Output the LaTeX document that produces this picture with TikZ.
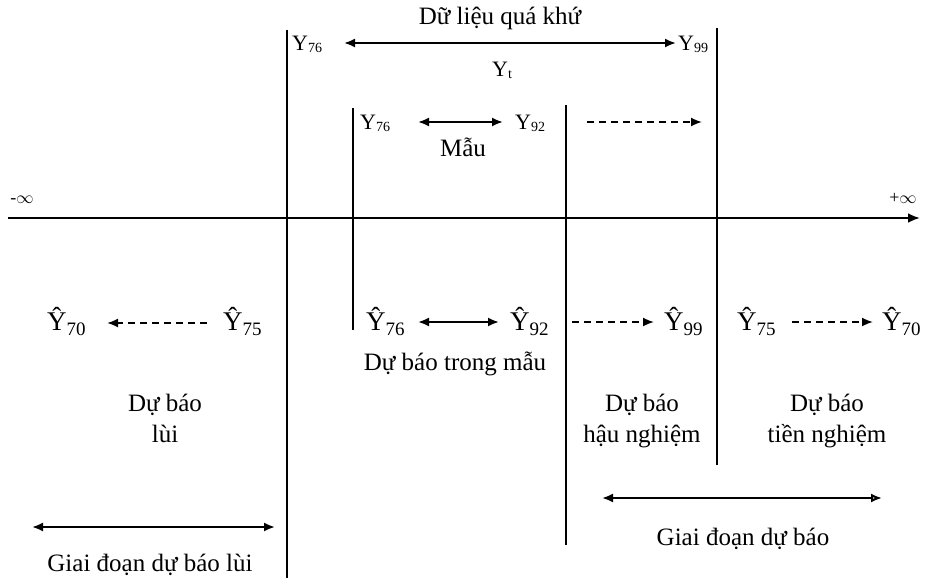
\documentclass[tikz,border=0pt]{standalone}
\usepackage{fontspec}
\setmainfont{Liberation Serif}
\usetikzlibrary{arrows.meta}
\begin{document}
\begin{tikzpicture}[x=1pt,y=-1pt,
 txt/.style={font=\fontsize{25}{28}\selectfont, inner sep=0pt, anchor=base},
 ysm/.style={font=\fontsize{22}{24}\selectfont, inner sep=0pt, anchor=base west},
 yhat/.style={font=\fontsize{27}{29}\selectfont, inner sep=0pt, anchor=base west},
 inf/.style={font=\fontsize{18}{20}\selectfont, inner sep=0pt},
 vline/.style={line width=2pt},
 axisline/.style={line width=2.5pt, -{Latex[length=12pt,width=10pt]}},
 arr/.style={line width=2pt, {Latex[length=11pt,width=9pt]}-{Latex[length=11pt,width=9pt]}},
 arropen/.style={line width=2pt, {Latex[length=11pt,width=9pt]}-{Latex[open,length=11pt,width=9pt]}},
 darr/.style={line width=1.8pt, dash pattern=on 7pt off 5pt, -{Latex[length=11pt,width=9pt]}},
]
\useasboundingbox (0,0) rectangle (933,578);
\newcommand{\ysub}[1]{{\fontsize{14}{14}\selectfont\raisebox{-2pt}{#1}}}
\newcommand{\yhsub}[1]{Ŷ{\fontsize{19}{19}\selectfont\raisebox{-5pt}{#1}}}

% axis
\coordinate (axL) at (8,218);
\coordinate (axR) at (920,218);
\draw[axisline] (axL) -- (axR);
\node[inf] (minf) at (22,200) {-$\infty$};
\node[inf] (pinf) at (903,198) {+$\infty$};

% vertical lines
\coordinate (v1t) at (287,30);  \coordinate (v1b) at (287,578);
\coordinate (v2t) at (353,108); \coordinate (v2b) at (353,330);
\coordinate (v3t) at (566,105); \coordinate (v3b) at (566,545);
\coordinate (v4t) at (717,28);  \coordinate (v4b) at (717,465);
\draw[vline] (v1t) -- (v1b);
\draw[vline] (v2t) -- (v2b);
\draw[vline] (v3t) -- (v3b);
\draw[vline] (v4t) -- (v4b);

% top row
\node[txt] (past) at (500,25) {Dữ liệu quá khứ};
\node[ysm] (ya76) at (292,50) {Y\ysub{76}};
\node[ysm] (ya99) at (678,50) {Y\ysub{99}};
\coordinate (a1s) at (344,43); \coordinate (a1e) at (676,43);
\draw[arr] (a1s) -- (a1e);
\node[ysm,anchor=base] (yt) at (502,76) {Y\ysub{t}};

% second row
\node[ysm] (yb76) at (360,129) {Y\ysub{76}};
\node[ysm] (yb92) at (515,129) {Y\ysub{92}};
\coordinate (b1s) at (418,122); \coordinate (b1e) at (503,122);
\draw[arr] (b1s) -- (b1e);
\node[txt] (mau) at (463,156) {Mẫu};
\coordinate (b2s) at (587,122); \coordinate (b2e) at (702,122);
\draw[darr] (b2s) -- (b2e);

% hat row
\node[yhat] (h70l) at (47,330) {\yhsub{70}};
\node[yhat] (h75l) at (223,330) {\yhsub{75}};
\coordinate (c1s) at (207,323); \coordinate (c1e) at (107,323);
\draw[darr] (c1s) -- (c1e);
\node[yhat] (h76) at (366,330) {\yhsub{76}};
\node[yhat] (h92) at (510,330) {\yhsub{92}};
\coordinate (c2s) at (418,322); \coordinate (c2e) at (499,322);
\draw[arr] (c2s) -- (c2e);
\node[yhat] (h99) at (664,330) {\yhsub{99}};
\coordinate (c3s) at (572,322); \coordinate (c3e) at (654,322);
\draw[darr] (c3s) -- (c3e);
\node[yhat] (h75r) at (737,330) {\yhsub{75}};
\node[yhat] (h70r) at (882,330) {\yhsub{70}};
\coordinate (c4s) at (792,322); \coordinate (c4e) at (873,322);
\draw[darr] (c4s) -- (c4e);

\node[txt] (trong) at (455,370) {Dự báo trong mẫu};

% forecast labels
\node[txt] (lui1) at (165,411) {Dự báo};
\node[txt] (lui2) at (165,442) {lùi};
\node[txt] (hau1) at (642,411) {Dự báo};
\node[txt] (hau2) at (642,442) {hậu nghiệm};
\node[txt] (tien1) at (827,411) {Dự báo};
\node[txt] (tien2) at (827,442) {tiền nghiệm};

% periods
\coordinate (p1s) at (32,527); \coordinate (p1e) at (275,527);
\draw[arr] (p1s) -- (p1e);
\node[txt] (gdlui) at (150,571) {Giai đoạn dự báo lùi};
\coordinate (p2s) at (602,498); \coordinate (p2e) at (882,498);
\draw[arropen] (p2s) -- (p2e);
\node[txt] (gd) at (743,545) {Giai đoạn dự báo};
\end{tikzpicture}
\end{document}
